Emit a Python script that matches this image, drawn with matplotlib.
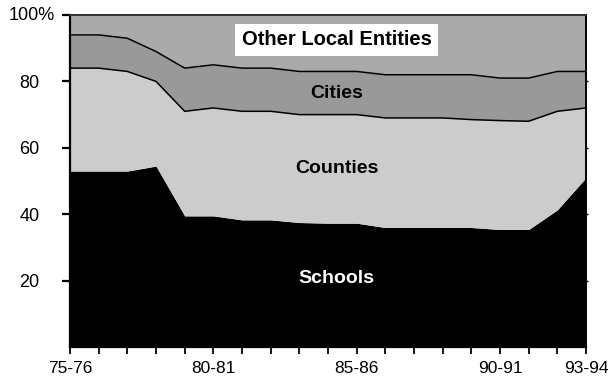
import numpy as np
import matplotlib
matplotlib.use("Agg")
import matplotlib.pyplot as plt

plt.rcParams['font.family'] = ['Liberation Sans', 'DejaVu Sans']

years = ["75-76", "76-77", "77-78", "78-79", "79-80", "80-81", "81-82", "82-83",
         "83-84", "84-85", "85-86", "86-87", "87-88", "88-89", "89-90", "90-91",
         "91-92", "92-93", "93-94"]
shown_labels = {"75-76", "80-81", "85-86", "90-91", "93-94"}

# cumulative tops of each band (percent of total)
schools_top = [53, 53, 53, 54.5, 39.5, 39.5, 38.3, 38.3, 37.5, 37.3, 37.3,
               36, 36, 36, 36, 35.4, 35.4, 41.3, 51]
counties_top = [84, 84, 83, 80, 71, 72, 71, 71, 70, 70, 70,
                69, 69, 69, 68.5, 68.2, 68, 71, 72]
cities_top = [94, 94, 93, 89, 84, 85, 84, 84, 83, 83, 83,
              82, 82, 82, 82, 81, 81, 83, 83]
total = [100] * len(years)

x = np.arange(len(years))

fig = plt.figure(figsize=(6.12, 3.79), dpi=100)
ax = fig.add_axes([0.1144, 0.0844, 0.8431, 0.8760])

ax.fill_between(x, 0, schools_top, color="black", lw=0)
ax.fill_between(x, schools_top, counties_top, color="#cccccc", lw=0)
ax.fill_between(x, counties_top, cities_top, color="#999999", lw=0)
ax.fill_between(x, cities_top, total, color="#aaaaaa", lw=0)
ax.plot(x, counties_top, color="black", lw=1.1)
ax.plot(x, cities_top, color="black", lw=1.1)

ax.set_xlim(0, len(years) - 1)
ax.set_ylim(0, 100)

# band labels
ax.text(9.3, 92.5, "Other Local Entities", ha="center", va="center",
        fontsize=14.5, fontweight="bold", color="black",
        bbox=dict(facecolor="white", edgecolor="none", pad=5))
ax.text(9.3, 76.4, "Cities", ha="center", va="center",
        fontsize=14, fontweight="bold", color="black")
ax.text(9.3, 53.8, "Counties", ha="center", va="center",
        fontsize=14, fontweight="bold", color="black")
ax.text(9.3, 20.7, "Schools", ha="center", va="center",
        fontsize=14, fontweight="bold", color="white")

# axes cosmetics
ax.set_xticks(x)
ax.set_xticklabels([y if y in shown_labels else "" for y in years], fontsize=12.5)
ax.set_yticks([20, 40, 60, 80, 100])
ax.set_yticklabels(["20", "40", "60", "80", ""], fontsize=13)
ax.annotate("100%", xy=(0, 100), xycoords=("axes fraction", "data"),
            xytext=(-11, 0), textcoords="offset points",
            ha="right", va="center", fontsize=13)
ax.tick_params(axis="x", direction="out", length=5, width=1.3, pad=5)
ax.tick_params(axis="y", direction="out", length=6, width=1.6, pad=16)

# tiny marks on the right edge
ax2 = ax.twinx()
ax2.set_ylim(0, 100)
ax2.set_yticks([20, 40, 60, 80])
ax2.tick_params(axis="y", direction="out", length=1.5, width=1, labelright=False)

for s in ["left", "bottom"]:
    ax.spines[s].set_linewidth(1.6)
    ax.spines[s].set_color("black")
for a in (ax, ax2):
    a.spines["top"].set_color("#333333")
    a.spines["top"].set_linewidth(1.4)
    a.spines["right"].set_color("black")
    a.spines["right"].set_linewidth(1.2)
ax2.spines["left"].set_visible(False)
ax2.spines["bottom"].set_visible(False)

fig.savefig("out.png", dpi=100)
